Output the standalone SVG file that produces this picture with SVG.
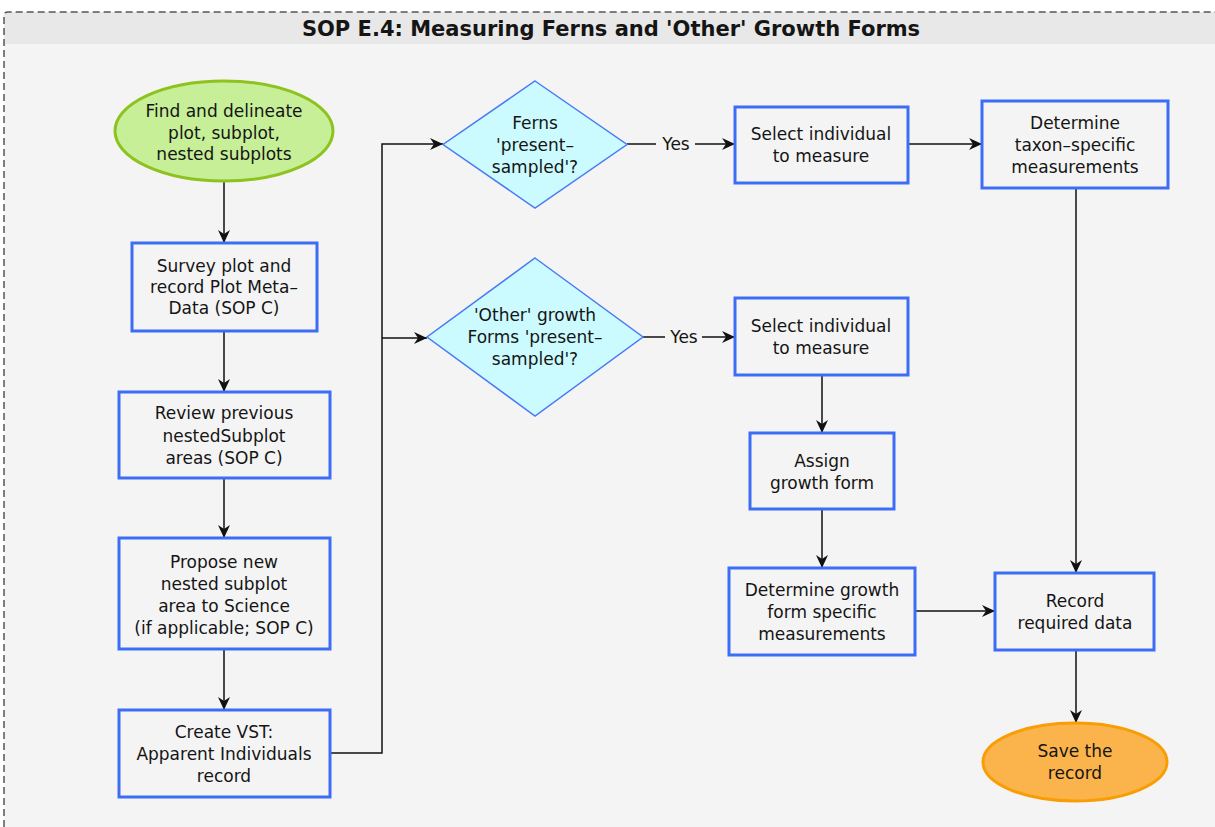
<svg xmlns="http://www.w3.org/2000/svg" width="1215" height="827" viewBox="0 0 1215 827">
<style>
text{font-family:"DejaVu Sans","Liberation Sans",sans-serif;font-size:17px;fill:#151515;text-anchor:middle;dominant-baseline:central}
.title{font-weight:bold;font-size:21px}
.box{fill:#f4f4f4;stroke:#3d6df5;stroke-width:3}
.dia{fill:#ccfbff;stroke:#4a7af5;stroke-width:1.5}
.edge{fill:none;stroke:#111;stroke-width:1.5}
</style>
<defs>
<marker id="arr" markerUnits="userSpaceOnUse" markerWidth="14" markerHeight="12" refX="13" refY="6" orient="auto">
<path d="M0,0 L13,6 L0,12 L4,6 z" fill="#111"/>
</marker>
</defs>
<rect x="0" y="0" width="1215" height="827" fill="#ffffff"/>
<g id="container">
<rect x="4" y="12" width="1230" height="850" rx="4" fill="#f4f4f4"/>
<rect x="4" y="12" width="1230" height="32" fill="#e8e8e8"/>
<path d="M4,860 L4,16 Q4,12 8,12 L1230,12" fill="none" stroke="#555" stroke-width="1.5" stroke-dasharray="7 4"/>
<text class="title" x="611" y="29">SOP E.4: Measuring Ferns and 'Other' Growth Forms</text>
</g>
<g id="connectors">
<path class="edge" d="M224,181 L224,243" marker-end="url(#arr)"/>
<path class="edge" d="M224,331 L224,392" marker-end="url(#arr)"/>
<path class="edge" d="M224,478 L224,538" marker-end="url(#arr)"/>
<path class="edge" d="M224,649 L224,710" marker-end="url(#arr)"/>
<path class="edge" d="M330,753 L382,753 L382,144 L443,144" marker-end="url(#arr)"/>
<path class="edge" d="M382,338 L427,338" marker-end="url(#arr)"/>
<path class="edge" d="M627,144 L656,144"/>
<path class="edge" d="M695,144 L735,144" marker-end="url(#arr)"/>
<text x="676" y="144">Yes</text>
<path class="edge" d="M643,337 L665,337"/>
<path class="edge" d="M702,337 L735,337" marker-end="url(#arr)"/>
<text x="684" y="337">Yes</text>
<path class="edge" d="M908,144 L982,144" marker-end="url(#arr)"/>
<path class="edge" d="M1076,188 L1076,573" marker-end="url(#arr)"/>
<path class="edge" d="M822,375 L822,433" marker-end="url(#arr)"/>
<path class="edge" d="M822,509 L822,568" marker-end="url(#arr)"/>
<path class="edge" d="M915,611 L995,611" marker-end="url(#arr)"/>
<path class="edge" d="M1076,650 L1076,723" marker-end="url(#arr)"/>
</g>
<g id="start">
<ellipse cx="224" cy="131" rx="109" ry="50" fill="#c6ef98" stroke="#8dc21f" stroke-width="3"/>
<text x="224" y="111">Find and delineate</text>
<text x="224" y="133">plot, subplot,</text>
<text x="224" y="154">nested subplots</text>
</g>
<g id="survey">
<rect class="box" x="132" y="243" width="185" height="88"/>
<text x="224" y="266">Survey plot and</text>
<text x="224" y="287">record Plot Meta–</text>
<text x="224" y="308">Data (SOP C)</text>
</g>
<g id="review">
<rect class="box" x="119" y="392" width="211" height="86"/>
<text x="224" y="413">Review previous</text>
<text x="224" y="436">nestedSubplot</text>
<text x="224" y="458">areas (SOP C)</text>
</g>
<g id="propose">
<rect class="box" x="119" y="538" width="211" height="111"/>
<text x="224" y="562">Propose new</text>
<text x="224" y="584">nested subplot</text>
<text x="224" y="606">area to Science</text>
<text x="224" y="628">(if applicable; SOP C)</text>
</g>
<g id="create">
<rect class="box" x="119" y="710" width="211" height="87"/>
<text x="224" y="732">Create VST:</text>
<text x="224" y="754">Apparent Individuals</text>
<text x="224" y="776">record</text>
</g>
<g id="ferns">
<polygon class="dia" points="535,81 627,144.5 535,208 443,144.5"/>
<text x="535" y="123">Ferns</text>
<text x="535" y="145">'present–</text>
<text x="535" y="167">sampled'?</text>
</g>
<g id="other">
<polygon class="dia" points="535,258 643,337 535,416 427,337"/>
<text x="535" y="315">'Other' growth</text>
<text x="535" y="337">Forms 'present–</text>
<text x="535" y="359">sampled'?</text>
</g>
<g id="select1">
<rect class="box" x="735" y="107" width="173" height="76"/>
<text x="821" y="134">Select individual</text>
<text x="821" y="156">to measure</text>
</g>
<g id="taxon">
<rect class="box" x="982" y="101" width="186" height="87"/>
<text x="1075" y="123">Determine</text>
<text x="1075" y="145">taxon–specific</text>
<text x="1075" y="167">measurements</text>
</g>
<g id="select2">
<rect class="box" x="735" y="298" width="173" height="77"/>
<text x="821" y="326">Select individual</text>
<text x="821" y="348">to measure</text>
</g>
<g id="assign">
<rect class="box" x="750" y="433" width="144" height="76"/>
<text x="822" y="461">Assign</text>
<text x="822" y="483">growth form</text>
</g>
<g id="detgrowth">
<rect class="box" x="729" y="568" width="186" height="87"/>
<text x="822" y="590">Determine growth</text>
<text x="822" y="612">form specific</text>
<text x="822" y="634">measurements</text>
</g>
<g id="record">
<rect class="box" x="995" y="573" width="159" height="77"/>
<text x="1075" y="601">Record</text>
<text x="1075" y="623">required data</text>
</g>
<g id="save">
<ellipse cx="1075" cy="762" rx="92" ry="39" fill="#fbb44b" stroke="#f99d05" stroke-width="3"/>
<text x="1075" y="751">Save the</text>
<text x="1075" y="773">record</text>
</g>
</svg>
